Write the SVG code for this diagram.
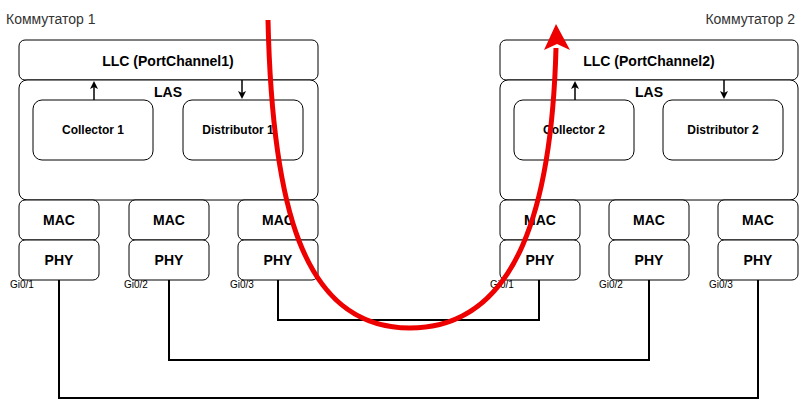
<svg xmlns="http://www.w3.org/2000/svg" width="800" height="402" viewBox="0 0 800 402">
<style>
.b{fill:#fff;stroke:#000;stroke-width:1}
.t{font-family:"Liberation Sans",Arial,sans-serif;font-weight:bold;text-anchor:middle;fill:#000}
.s{font-family:"Liberation Sans",Arial,sans-serif;font-size:12px;font-weight:bold;text-anchor:middle;fill:#000}
.g{font-family:"Liberation Sans",Arial,sans-serif;font-size:10px;fill:#000}
.w{fill:none;stroke:#000;stroke-width:2}
.a{stroke:#000;stroke-width:1.5}
</style>
<defs><marker id="ah" markerWidth="8" markerHeight="8" refX="4" refY="4" orient="auto" markerUnits="userSpaceOnUse"><path d="M0,0L8,4L0,8L2,4z" fill="#000"/></marker></defs>
<rect width="800" height="402" fill="#fff"/>
<text x="6" y="24" font-family="Liberation Sans,Arial,sans-serif" font-size="14" fill="#333">Коммутатор 1</text>
<text x="795" y="24" font-family="Liberation Sans,Arial,sans-serif" font-size="14" fill="#333" text-anchor="end">Коммутатор 2</text>
<g id="connectors">
<path class="w" d="M59,280V398H758V280"/>
<path class="w" d="M169,280V360H649V280"/>
<path class="w" d="M278,280V320H539V280"/>
</g>
<g id="sw1">
<rect class="b" x="19" y="40" width="299" height="40" rx="6"/><text class="t" x="168" y="66" font-size="14">LLC (PortChannel1)</text>
<rect class="b" x="19" y="80" width="299" height="120" rx="8"/><text class="t" x="168" y="97" font-size="14">LAS</text>
<rect class="b" x="33" y="100" width="120" height="60" rx="9"/><text class="s" x="93" y="134" font-size="11">Collector 1</text>
<rect class="b" x="183" y="100" width="120" height="60" rx="9"/><text class="s" x="238" y="134" font-size="11">Distributor 1</text>
<line class="a" x1="94" y1="100" x2="94" y2="85" marker-end="url(#ah)"/>
<line class="a" x1="242" y1="80" x2="242" y2="95" marker-end="url(#ah)"/>
<rect class="b" x="19" y="200" width="80" height="40" rx="6"/><text class="t" x="59" y="225" font-size="14">MAC</text>
<rect class="b" x="129" y="200" width="80" height="40" rx="6"/><text class="t" x="169" y="225" font-size="14">MAC</text>
<rect class="b" x="238" y="200" width="80" height="40" rx="6"/><text class="t" x="278" y="225" font-size="14">MAC</text>
<rect class="b" x="19" y="240" width="80" height="40" rx="6"/><text class="t" x="59" y="265" font-size="14">PHY</text>
<rect class="b" x="129" y="240" width="80" height="40" rx="6"/><text class="t" x="169" y="265" font-size="14">PHY</text>
<rect class="b" x="238" y="240" width="80" height="40" rx="6"/><text class="t" x="278" y="265" font-size="14">PHY</text>
<text class="g" x="10" y="288">Gi0/1</text><text class="g" x="124" y="288">Gi0/2</text><text class="g" x="230" y="288">Gi0/3</text>
</g>
<g id="sw2">
<rect class="b" x="500" y="40" width="298" height="40" rx="6"/><text class="t" x="649" y="66" font-size="14">LLC (PortChannel2)</text>
<rect class="b" x="500" y="80" width="298" height="120" rx="8"/><text class="t" x="649" y="97" font-size="14">LAS</text>
<rect class="b" x="514" y="100" width="120" height="60" rx="9"/><text class="s" x="574" y="134" font-size="11">Collector 2</text>
<rect class="b" x="663" y="100" width="120" height="60" rx="9"/><text class="s" x="723" y="134" font-size="11">Distributor 2</text>
<line class="a" x1="575" y1="100" x2="575" y2="85" marker-end="url(#ah)"/>
<line class="a" x1="724" y1="80" x2="724" y2="95" marker-end="url(#ah)"/>
<rect class="b" x="500" y="200" width="80" height="40" rx="6"/><text class="t" x="540" y="225" font-size="14">MAC</text>
<rect class="b" x="609" y="200" width="80" height="40" rx="6"/><text class="t" x="649" y="225" font-size="14">MAC</text>
<rect class="b" x="718" y="200" width="80" height="40" rx="6"/><text class="t" x="758" y="225" font-size="14">MAC</text>
<rect class="b" x="500" y="240" width="80" height="40" rx="6"/><text class="t" x="540" y="265" font-size="14">PHY</text>
<rect class="b" x="609" y="240" width="80" height="40" rx="6"/><text class="t" x="649" y="265" font-size="14">PHY</text>
<rect class="b" x="718" y="240" width="80" height="40" rx="6"/><text class="t" x="758" y="265" font-size="14">PHY</text>
<text class="g" x="490" y="288">Gi0/1</text><text class="g" x="599" y="288">Gi0/2</text><text class="g" x="709" y="288">Gi0/3</text>
</g>
<g id="flow">
<path d="M268,20C272,200 300,328 410,328C520,328 552,200 556,48" fill="none" stroke="#e00" stroke-width="5"/>
<path d="M544,50L556,24L570,50L557,44z" fill="#e00"/>
</g>
</svg>
